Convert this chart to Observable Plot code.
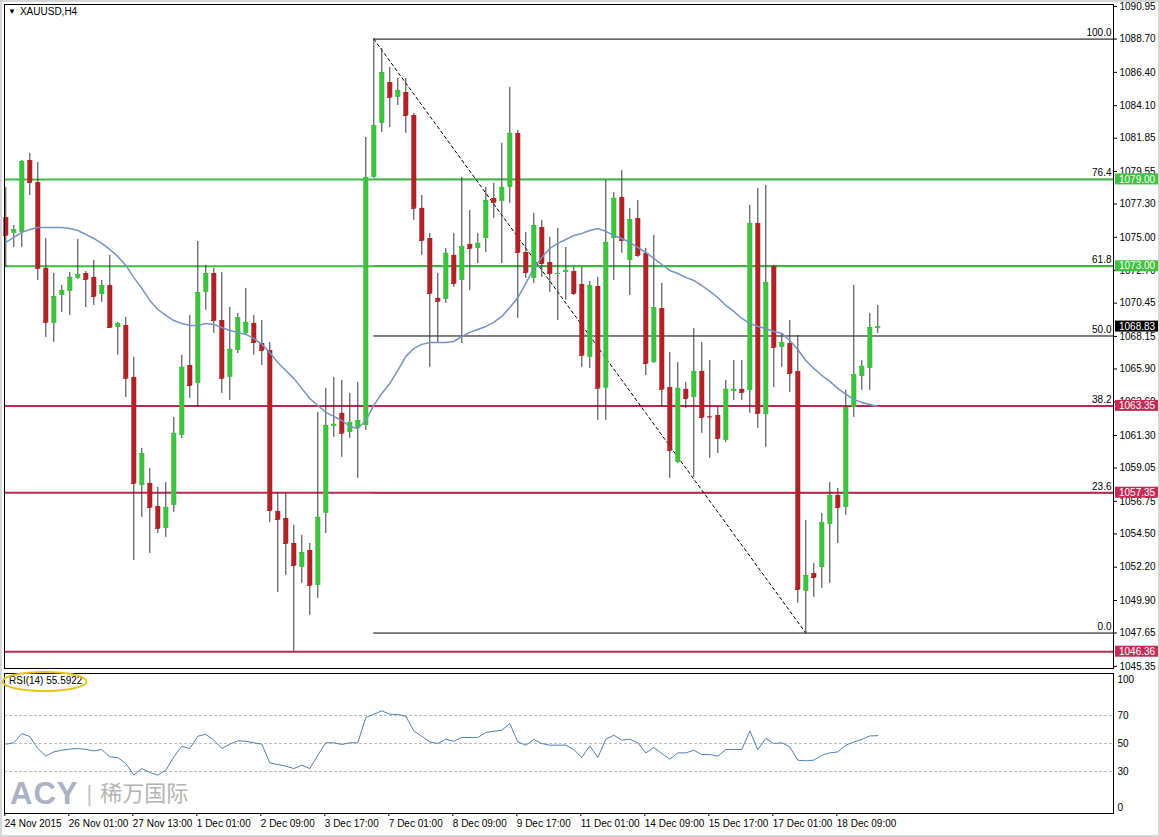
<!DOCTYPE html>
<html><head><meta charset="utf-8">
<script src="https://cdn.jsdelivr.net/npm/d3@7"></script>
<script src="https://cdn.jsdelivr.net/npm/@observablehq/plot@0.6"></script>
<style>
html,body{margin:0;padding:0;background:#fff;}
#wrap{position:relative;width:1160px;height:837px;overflow:hidden;font-family:"Liberation Sans",Arial,sans-serif;background:#fff;}
#main{position:absolute;left:0;top:0;z-index:2;}
#rsi{position:absolute;left:0;top:670px;z-index:1;}
#main svg,#rsi svg{overflow:visible;}
#title{position:absolute;left:8px;top:6px;font-size:10px;color:#000;white-space:nowrap;z-index:3;}
#title .tri{font-size:8px;margin-right:4px;position:relative;top:-1px;}
#rsilabel{position:absolute;left:9px;top:675px;font-size:10px;color:#000;white-space:nowrap;z-index:3;}
#ellipse{position:absolute;left:0;top:670px;pointer-events:none;z-index:3;}
#wm{position:absolute;left:10px;top:776px;white-space:nowrap;pointer-events:none;z-index:0;}
#wm .acy{font-family:"Liberation Sans",Arial,sans-serif;font-weight:bold;font-size:31px;color:#aab2c4;letter-spacing:1px;}
#wm .bar{font-size:22px;color:#c4c4c4;margin:0 8px 0 8px;position:relative;top:-3px;}
#wm .cn{font-family:"Noto Sans CJK SC",sans-serif;font-size:22px;color:#b4b4b4;position:relative;top:-3px;}
#border{position:absolute;left:0;top:0;width:1156px;height:833px;border:2px solid #d6d6d6;pointer-events:none;z-index:4;}
</style></head>
<body>
<div id="wrap">
  <div id="wm"><span class="acy">ACY</span><span class="bar">|</span><span class="cn">稀万国际</span></div>
  <div id="main"></div>
  <div id="rsi"></div>
  <div id="title"><span class="tri">&#9660;</span>XAUUSD,H4</div>
  <div id="rsilabel">RSI(14) 55.5922</div>
  <svg id="ellipse" width="120" height="30"><ellipse cx="44.5" cy="11.5" rx="42" ry="9.5" fill="none" stroke="#e9c41e" stroke-width="2"/></svg>
  <div id="border"></div>
</div>
<script>
// ---------- DATA ----------
const open = [1076.37,1075.27,1075.34,1080.31,1078.79,1072.85,1069.05,1070.98,1071.26,1072.16,
1072.50,1072.23,1071.05,1071.67,1068.77,1068.91,1065.32,1057.85,1057.99,1056.40,
1054.88,1056.47,1061.31,1066.14,1064.90,1071.19,1072.50,1069.25,1065.32,1067.18,
1068.36,1069.05,1067.66,1067.18,1056.05,1055.57,1053.84,1052.18,1053.36,1050.94,
1055.92,1061.93,1062.83,1061.51,1061.79,1062.00,1079.14,1082.87,1085.70,1084.67,
1085.01,1083.42,1077.00,1074.92,1070.78,1070.71,1073.75,1072.02,1074.51,1074.23,
1074.92,1077.69,1077.48,1078.45,1082.18,1073.95,1072.16,1075.68,1073.26,1072.43,
1072.57,1072.64,1071.74,1066.70,1071.60,1064.56,1074.92,1077.76,1073.40,1076.30,
1073.89,1066.35,1070.08,1064.62,1059.44,1064.49,1063.93,1065.73,1062.62,1062.69,
1060.96,1064.35,1064.49,1064.42,1075.96,1062.76,1072.99,1067.39,1067.66,1065.73,
1050.53,1051.77,1052.18,1055.16,1057.16,1056.33,1063.24,1065.38,1065.94,1068.70];

const high = [1078.45,1075.82,1080.31,1080.80,1080.17,1074.92,1072.50,1071.67,1072.57,1074.85,
1072.64,1073.40,1072.02,1073.75,1069.12,1069.46,1066.70,1060.41,1059.03,1057.71,
1058.06,1062.55,1066.84,1069.60,1074.71,1073.06,1072.85,1072.57,1070.15,1069.74,
1071.47,1069.60,1069.25,1067.73,1057.37,1057.30,1055.09,1054.40,1053.84,1062.90,
1064.56,1065.32,1065.11,1064.21,1064.97,1081.90,1088.70,1088.05,1086.74,1085.98,
1085.98,1083.56,1077.89,1075.27,1072.50,1074.23,1075.27,1079.14,1076.86,1075.27,
1078.45,1078.72,1081.49,1085.36,1082.39,1075.34,1076.65,1076.17,1074.99,1075.61,
1074.30,1072.92,1072.92,1071.95,1072.23,1078.93,1078.10,1079.62,1077.00,1077.55,
1074.23,1075.13,1071.81,1067.04,1066.35,1064.97,1068.70,1067.73,1066.49,1063.24,
1065.11,1066.49,1066.49,1077.20,1078.38,1078.58,1073.06,1068.36,1069.25,1068.22,
1055.43,1052.46,1055.92,1058.06,1057.64,1064.42,1071.67,1066.49,1069.74,1070.29];

const low = [1072.92,1074.30,1074.30,1077.89,1072.02,1068.08,1067.73,1069.81,1069.60,1072.09,
1070.15,1070.29,1070.50,1068.70,1066.84,1063.93,1052.67,1055.64,1053.15,1054.53,
1054.26,1055.99,1061.10,1063.86,1063.24,1069.95,1068.36,1064.21,1063.73,1066.97,
1068.22,1066.84,1066.14,1055.29,1050.46,1051.63,1046.36,1051.08,1048.87,1050.04,
1054.53,1061.17,1059.79,1061.10,1058.33,1061.65,1079.07,1082.25,1082.59,1084.11,
1082.18,1076.17,1073.75,1066.01,1067.66,1070.43,1071.54,1067.66,1071.33,1073.19,
1073.95,1076.30,1073.19,1077.34,1069.39,1072.16,1071.81,1072.23,1071.19,1069.25,
1070.64,1070.98,1066.01,1065.94,1062.34,1062.34,1072.02,1073.89,1070.98,1073.61,
1065.45,1066.28,1063.24,1058.33,1059.37,1063.17,1058.41,1061.45,1059.72,1060.06,
1060.82,1063.73,1063.73,1062.83,1061.79,1060.48,1064.62,1066.01,1064.28,1049.70,
1047.65,1050.11,1050.73,1051.08,1053.84,1055.78,1062.55,1064.42,1064.42,1068.36];

const close = [1075.13,1075.54,1080.24,1078.79,1072.85,1069.12,1070.91,1071.33,1072.23,1072.43,
1072.09,1070.91,1071.67,1068.77,1069.05,1065.25,1057.99,1060.06,1056.33,1054.88,
1056.33,1061.45,1066.01,1064.76,1071.19,1072.50,1069.25,1065.25,1067.25,1069.46,
1069.12,1067.73,1067.18,1056.12,1055.50,1053.84,1052.32,1053.22,1050.94,1055.64,
1062.00,1062.07,1061.45,1062.21,1062.34,1079.14,1082.73,1086.39,1084.67,1085.15,
1083.42,1077.00,1074.78,1071.12,1070.57,1073.89,1071.81,1074.37,1074.23,1074.58,
1077.55,1077.41,1078.45,1082.18,1073.95,1072.57,1075.82,1073.19,1072.50,1072.50,
1072.71,1071.12,1066.84,1071.67,1064.56,1074.65,1077.69,1074.78,1076.23,1073.75,
1066.28,1070.15,1064.49,1060.27,1064.56,1063.86,1065.73,1062.55,1062.58,1061.10,
1064.49,1064.49,1064.28,1075.96,1062.83,1071.88,1067.39,1067.73,1065.59,1050.66,
1051.63,1051.49,1055.29,1057.16,1056.33,1063.24,1065.52,1066.08,1068.77,1068.83];

const ma = [1074.65,1074.99,1075.34,1075.54,1075.68,1075.68,1075.68,1075.68,1075.61,1075.47,
1075.20,1074.92,1074.58,1074.16,1073.68,1073.06,1072.23,1071.47,1070.64,1070.01,
1069.60,1069.25,1069.05,1068.91,1068.91,1069.05,1068.98,1068.77,1068.56,1068.43,
1068.29,1068.01,1067.60,1067.04,1066.35,1065.80,1065.25,1064.56,1063.86,1063.38,
1062.90,1062.62,1062.34,1061.93,1061.79,1062.34,1063.38,1064.21,1064.90,1065.80,
1066.77,1067.32,1067.60,1067.73,1067.73,1067.73,1067.80,1068.15,1068.43,1068.63,
1068.84,1069.12,1069.53,1070.15,1070.84,1071.81,1072.85,1073.61,1074.23,1074.58,
1074.85,1075.13,1075.27,1075.47,1075.61,1075.41,1075.13,1074.92,1074.65,1074.30,
1073.95,1073.54,1073.12,1072.71,1072.50,1072.23,1072.02,1071.67,1071.26,1070.84,
1070.29,1069.88,1069.39,1069.05,1068.84,1068.70,1068.49,1068.36,1067.87,1067.25,
1066.49,1065.94,1065.45,1065.04,1064.56,1064.14,1063.80,1063.59,1063.45,1063.31];

const rsi = [49.5,50.5,57,55,46.4,41,44,45.2,46,46.4,
45.8,44.7,45.7,40.4,40,35.7,27.4,32.1,29.3,27.4,
30.9,40.4,48,46.4,55.2,56.6,52.4,46.4,49.5,51.9,
51.6,50.5,49.5,36.1,35,33.8,32.1,34.5,32.1,41.6,
50.5,50.5,49.3,50.5,50.5,68.6,70.9,73.3,70.9,70.7,
69.5,59,55.2,51.1,50,53.1,51.6,54.3,54.3,54.3,
57.9,58.7,59.5,64.3,51.1,48.8,52.9,50,48.8,48.8,
48.8,45.7,40,48.3,40,53.1,55.9,52.4,53.1,50.5,
43.3,47.1,42.9,38.8,43.3,43.3,45.2,42.1,42.1,41,
45.7,45.7,45.7,59,45.7,53.6,50,50.5,47.6,38.1,
37.6,38.1,41.6,43.3,44,48.8,51.1,52.9,55.4,55.59];

const dateTickBars = [0,8,16,24,32,40,48,56,64,72,80,88,96,104];
const dateTickLabels = ["24 Nov 2015","26 Nov 01:00","27 Nov 13:00","1 Dec 01:00","2 Dec 09:00","3 Dec 17:00","7 Dec 01:00","8 Dec 09:00","9 Dec 17:00","11 Dec 01:00","14 Dec 09:00","15 Dec 17:00","17 Dec 01:00","18 Dec 09:00"];

const priceTicks = [1090.95,1088.70,1086.40,1084.10,1081.85,1079.55,1077.30,1075.00,1072.70,1070.45,1068.15,1065.90,1063.60,1061.30,1059.05,1056.75,1054.50,1052.20,1049.90,1047.65,1045.35];

const fibPct = ["100.0","76.4","61.8","50.0","38.2","23.6","0.0"];
const fibPrice = [1088.70,1079.01,1073.02,1068.18,1063.33,1057.34,1047.65];
const fibStartBar = 46, fibEndBar = 100;

const greenLevels = [1079.00, 1073.00];
const redLevels = [1063.35, 1057.35, 1046.36];
const lastPrice = 1068.83;

const rsiLevels = [70, 50, 30];

// ---------- STYLE ----------
const UP = "#3cc23c", DOWN = "#b02226", WICK = "#3a3a3a";
const GREEN = "#3fb948", CRIMSON = "#b5294f";
const FONT = "Liberation Sans, Arial, sans-serif";
const xDomain = [-0.1625, 138.4625];

const bars = open.map((o, i) => ({i, o, h: high[i], l: low[i], c: close[i], up: close[i] >= open[i]}));
const fib = fibPrice.map((p, k) => ({p, label: fibPct[k]}));
const maData = ma.map((v, i) => ({i, v}));
const rsiData = rsi.map((v, i) => ({i, v}));
const diag = [{i: fibStartBar, p: fibPrice[0]}, {i: fibEndBar, p: fibPrice[6]}];

const main = Plot.plot({
  width: 1160, height: 670,
  marginLeft: 4, marginRight: 47, marginTop: 4, marginBottom: 2,
  x: {domain: xDomain, axis: null},
  y: {domain: [1045.20, 1091.09], axis: null},
  style: {fontFamily: FONT, fontSize: "10px", background: "transparent", color: "#000", overflow: "visible"},
  marks: [
    Plot.ruleY(fib, {y: "p", x1: () => fibStartBar, x2: () => xDomain[1], stroke: "#000", strokeWidth: 1}),
    Plot.ruleY(greenLevels, {stroke: GREEN, strokeWidth: 2}),
    Plot.ruleY(redLevels, {stroke: CRIMSON, strokeWidth: 2}),
    Plot.line(diag, {x: "i", y: "p", stroke: "#000", strokeWidth: 1, strokeDasharray: "3,3"}),
    Plot.ruleX(bars, {x: "i", y1: "l", y2: "h", stroke: WICK, strokeWidth: 1}),
    Plot.ruleX(bars, {x: "i", y1: "o", y2: "c", stroke: d => d.up ? UP : DOWN, strokeWidth: 5}),
    Plot.ruleY(bars, {y: "c", x1: d => d.i - 0.3, x2: d => d.i + 0.3, stroke: d => d.up ? UP : DOWN, strokeWidth: 1}),
    Plot.line(maData, {x: "i", y: "v", stroke: "#7393c3", strokeWidth: 1.5}),
    Plot.frame({stroke: "#000"}),
    Plot.axisY({anchor: "right", label: null, ticks: priceTicks, tickFormat: d => d.toFixed(2), tickSize: 3, tickPadding: 3, fill: "#000"}),
    Plot.text(fib, {y: "p", text: "label", frameAnchor: "right", textAnchor: "end", dx: -2, dy: -6, fill: "#000", fontSize: 10})
  ]
});
document.getElementById("main").appendChild(main);

// price badges (drawn with the plot's own y scale)
(function () {
  const ys = main.scale("y"), xr = main.scale("x").range;
  const bx = xr[1] + 2;
  const badges = [
    ...greenLevels.map(v => ({v, bg: "#3fc23f"})),
    ...redLevels.map(v => ({v, bg: "#c42c55"})),
    {v: lastPrice, bg: "#000"}
  ];
  const g = d3.select(main).append("g").attr("font-family", FONT).attr("font-size", 10).attr("text-anchor", "start");
  badges.forEach(b => {
    const yy = ys.apply(b.v);
    g.append("rect").attr("x", bx).attr("y", yy - 5.5).attr("width", 43).attr("height", 11).attr("fill", b.bg);
    g.append("text").attr("x", bx + 4).attr("y", yy).attr("dy", "0.36em").attr("text-anchor", "start").attr("fill", "#fff").text(b.v.toFixed(2));
  });
})();

const rsiPlot = Plot.plot({
  width: 1160, height: 167,
  marginLeft: 4, marginRight: 47, marginTop: 3, marginBottom: 24,
  x: {domain: xDomain, axis: null},
  y: {domain: [0, 100], axis: null},
  style: {fontFamily: FONT, fontSize: "10px", background: "transparent", color: "#000", overflow: "visible"},
  marks: [
    Plot.ruleY(rsiLevels, {stroke: "#bdbdbd", strokeDasharray: "3,2", strokeWidth: 1}),
    Plot.line(rsiData, {x: "i", y: "v", stroke: "#4f80b3", strokeWidth: 1}),
    Plot.frame({stroke: "#000"}),
    Plot.axisY({anchor: "right", label: null, ticks: rsiLevels, tickSize: 0, tickPadding: 4, fill: "#000"}),
    Plot.text([100], {y: d => d, text: d => String(d), frameAnchor: "right", textAnchor: "start", dx: 4, dy: 6, fill: "#000"}),
    Plot.text([0], {y: d => d, text: d => String(d), frameAnchor: "right", textAnchor: "start", dx: 4, dy: -6, fill: "#000"}),
    Plot.axisX({anchor: "bottom", label: null, ticks: dateTickBars, tickFormat: d => dateTickLabels[dateTickBars.indexOf(d)], textAnchor: "start", tickSize: 3, tickPadding: 3, dx: -1, fill: "#000"})
  ]
});
document.getElementById("rsi").appendChild(rsiPlot);
</script>
</body></html>
